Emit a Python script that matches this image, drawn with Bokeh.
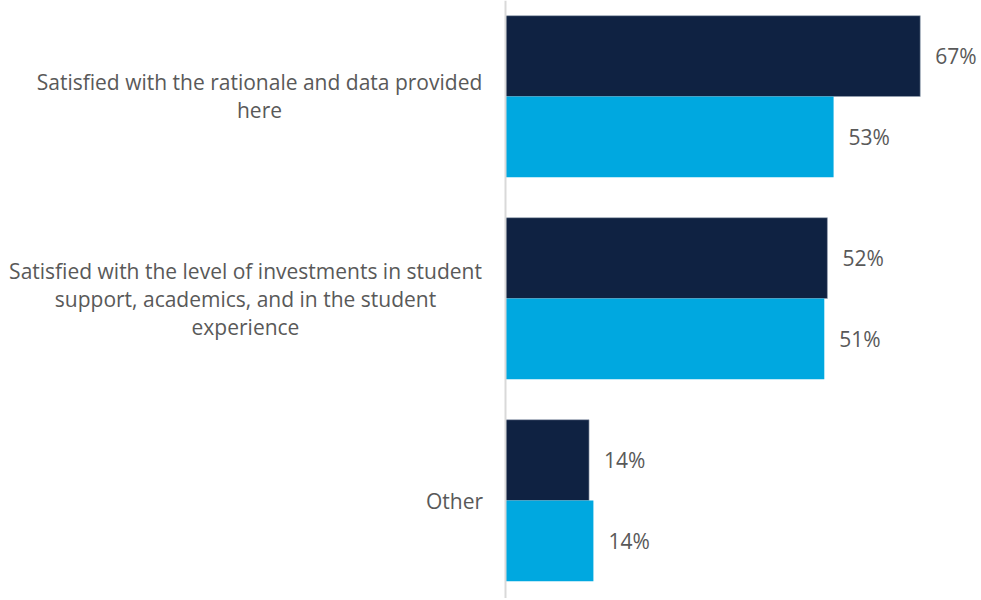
from bokeh.plotting import figure
from bokeh.models import ColumnDataSource, Label, Span
from bokeh.core.properties import value
from bokeh.embed import file_html
from bokeh.resources import INLINE

categories = [
    "Satisfied with the rationale and data provided\nhere",
    "Satisfied with the level of investments in student\nsupport, academics, and in the student\nexperience",
    "Other",
]
series_a = [67, 52, 13.5]    # dark series
series_b = [53, 51.5, 14.2]  # light series
labels_a = ["67%", "52%", "14%"]
labels_b = ["53%", "51%", "14%"]

DARK = "#0F2242"
LIGHT = "#00A8E0"
GREY = "#595959"
FONT = "Open Sans"
FS = "21px"

pos = list(range(len(categories)))
bar_h = 0.4
# horizontal pixel offsets (from the axis line) of the centre of each category text block
label_centre_px = [-246, -260, -51]

src_a = ColumnDataSource(dict(y=[q - bar_h / 2 for q in pos], v=series_a, lab=labels_a))
src_b = ColumnDataSource(dict(y=[q + bar_h / 2 for q in pos], v=series_b, lab=labels_b))

p = figure(width=978, height=598, output_backend="svg", toolbar_location=None,
           x_range=(-81.58, 76.41), y_range=(2.4851, -0.4752),
           min_border_left=0, min_border_right=0, min_border_top=0, min_border_bottom=0)
p.outline_line_color = None
p.grid.visible = False
p.xaxis.visible = False
p.yaxis.visible = False

p.add_layout(Span(location=0, dimension="height", line_color="#D9D9D9", line_width=2))

p.hbar(y="y", left=0, right="v", height=bar_h, source=src_a, fill_color=DARK,
       line_color="#9aa6b6", line_width=0.6)
p.hbar(y="y", left=0, right="v", height=bar_h, source=src_b, fill_color=LIGHT, line_color=None)

for s in (src_a, src_b):
    p.text(x="v", y="y", text="lab", source=s, x_offset=15, text_align="left",
           text_baseline="middle", text_color=GREY, text_font_size=FS,
           text_font=value(FONT))

for q, c, off in zip(pos, categories, label_centre_px):
    p.add_layout(Label(x=0, y=q, x_offset=off, text=c, text_align="center",
                       text_baseline="middle", text_font=FONT, text_font_size=FS,
                       text_color=GREY, text_line_height=1.0))

open("out.html", "w").write(file_html(p, INLINE))
